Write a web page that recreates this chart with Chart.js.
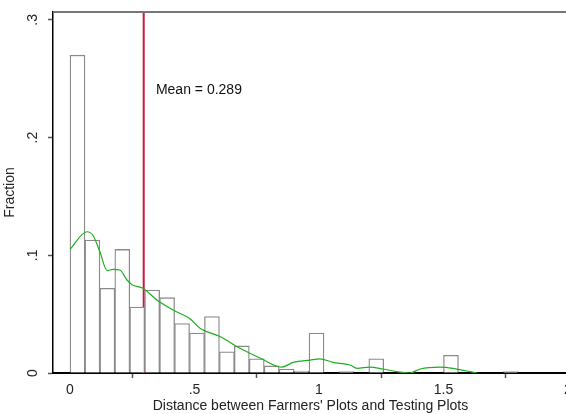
<!DOCTYPE html>
<html>
<head>
<meta charset="utf-8">
<script src="https://cdn.jsdelivr.net/npm/chart.js@4/dist/chart.umd.min.js"></script>
<style>
  html, body { margin: 0; padding: 0; overflow: hidden; background: #fff; }
  #marco { width: 566px; height: 414px; overflow: hidden; }
</style>
</head>
<body>
<div id="marco"><canvas id="cuadro" width="572" height="414"></canvas></div>
<script>
// histograma: ancho de barra 0.06, empezando en 0
const bin_width = 0.06;
const fraccion = [0.270, 0.113, 0.072, 0.105, 0.056, 0.0705, 0.064, 0.042, 0.034, 0.048,
                  0.018, 0.023, 0.012, 0.006, 0.0034, 0.0017, 0.034, 0, 0.0012, 0,
                  0.012, 0, 0, 0, 0, 0.015, 0, 0, 0, 0.0012];

// curva de densidad (verde)
const kde_x = [0, 0.068, 0.092, 0.12, 0.149, 0.173, 0.2, 0.229, 0.249, 0.293, 0.349, 0.414, 0.482,
               0.522, 0.602, 0.683, 0.763, 0.851, 0.896, 0.964, 1.004, 1.056, 1.124, 1.153, 1.205,
               1.257, 1.317, 1.365, 1.406, 1.486, 1.538, 1.594, 1.635];
const kde_y = [0.105, 0.12, 0.117, 0.103, 0.087, 0.088, 0.0875, 0.079, 0.075, 0.072, 0.062, 0.0535, 0.046,
               0.038, 0.031, 0.021, 0.0127, 0.005, 0.009, 0.011, 0.012, 0.009, 0.0068, 0.004, 0.005,
               0.0034, 0.001, 0, 0.0034, 0.005, 0.004, 0.0017, 0];

const media = 0.296;
const media_texto = "Mean = 0.289";

const x_ticks = [0, 0.5, 1, 1.5, 2];
const x_labels = ["0", ".5", "1", "1.5", "2"];
const y_ticks = [0, 0.1, 0.2, 0.3];
const y_labels = ["0", ".1", ".2", ".3"];

const x_titulo = "Distance between Farmers' Plots and Testing Plots";
const y_titulo = "Fraction";

let barras = [];
for (let i = 0; i < fraccion.length; i++) {
  barras.push({ x: i * bin_width + bin_width / 2, y: fraccion[i] });
}
let curva = [];
for (let i = 0; i < kde_x.length; i++) {
  curva.push({ x: kde_x[i], y: kde_y[i] });
}

Chart.defaults.font.family = "'Liberation Sans', Arial, sans-serif";
Chart.defaults.font.size = 14;
Chart.defaults.color = "#222";

const marcoArriba = {
  id: 'marcoArriba',
  afterDraw(chart) {
    const c = chart.ctx;
    const a = chart.chartArea;
    c.save();
    c.strokeStyle = "#777";
    c.lineWidth = 2;
    c.beginPath();
    c.moveTo(a.left, a.top);
    c.lineTo(chart.width, a.top);
    c.stroke();
    // texto de la media
    const sx = chart.scales.x, sy = chart.scales.y;
    c.fillStyle = "#111";
    c.font = "14px 'Liberation Sans', Arial, sans-serif";
    c.textAlign = "left";
    c.textBaseline = "middle";
    c.fillText(media_texto, sx.getPixelForValue(0.345), sy.getPixelForValue(0.2404));
    c.restore();
  }
};

const ctx = document.getElementById("cuadro");

let cuadro = new Chart(ctx, {
  type: "bar",
  data: {
    datasets: [
      {
        type: "line",
        label: "media",
        data: [{ x: media, y: 0 }, { x: media, y: 0.3067 }],
        borderColor: "#d4143c",
        borderWidth: 2,
        pointRadius: 0,
        order: 3
      },
      {
        type: "bar",
        label: "Fraction",
        data: barras,
        backgroundColor: "#fff",
        borderColor: "#8a8a8a",
        borderWidth: 1.3,
        barPercentage: 1,
        categoryPercentage: 1,
        order: 2
      },
      {
        type: "line",
        label: "densidad",
        data: curva,
        borderColor: "#1fae1f",
        borderWidth: 1.2,
        pointRadius: 0,
        cubicInterpolationMode: "monotone",
        order: 1
      }
    ]
  },
  options: {
    responsive: false,
    animation: false,
    layout: { padding: { top: 12, right: 4, left: 0, bottom: 0 } },
    plugins: {
      legend: { display: false },
      tooltip: { enabled: false }
    },
    scales: {
      x: {
        type: "linear",
        min: -0.0683,
        max: 2,
        offset: false,
        afterBuildTicks: (s) => { s.ticks = x_ticks.map(v => ({ value: v })); },
        afterFit: (s) => { s.height = 41; s.paddingLeft = 0; s.paddingRight = 0; },
        ticks: {
          autoSkip: false,
          maxRotation: 0,
          padding: 4,
          color: "#222",
          callback: (v, i) => x_labels[i]
        },
        grid: { display: true, drawOnChartArea: false, drawTicks: true, tickLength: 5, tickColor: "#555", tickWidth: 1.5 },
        border: { display: true, color: "#000", width: 2 },
        title: { display: true, text: x_titulo, color: "#222", padding: { top: 0, bottom: -1 } }
      },
      y: {
        min: 0,
        max: 0.3067,
        afterBuildTicks: (s) => { s.ticks = y_ticks.map(v => ({ value: v })); },
        afterFit: (s) => { s.width = 53; s.paddingTop = 0; s.paddingBottom = 0; },
        ticks: {
          autoSkip: false,
          minRotation: 90,
          maxRotation: 90,
          crossAlign: "center",
          padding: 9,
          color: "#222",
          callback: (v, i) => y_labels[i]
        },
        grid: { display: true, drawOnChartArea: false, drawTicks: true, tickLength: 5, tickColor: "#555", tickWidth: 1.5 },
        border: { display: true, color: "#000", width: 1.5 },
        title: { display: true, text: y_titulo, color: "#222", padding: { top: 1.6, bottom: 0 } }
      }
    }
  },
  plugins: [marcoArriba]
});
</script>
</body>
</html>
